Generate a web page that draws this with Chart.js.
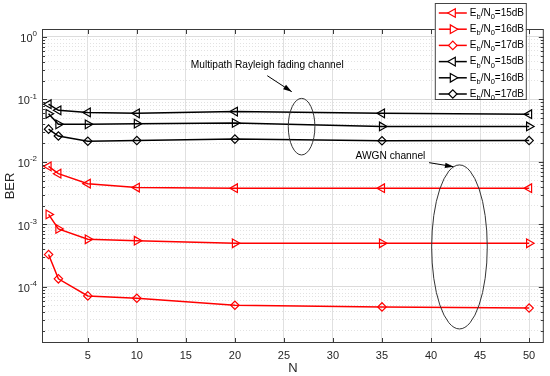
<!DOCTYPE html>
<html>
<head>
<meta charset="utf-8">
<script src="https://cdn.jsdelivr.net/npm/chart.js@4.4.1/dist/chart.umd.min.js"></script>
<style>
html, body { margin: 0; padding: 0; background: #fff; }
#wrap { width: 550px; height: 376px; position: relative; }
</style>
</head>
<body>
<div id="wrap"><canvas id="berChart"></canvas></div>
<script>
// number of paths N
var nValues = [1, 2, 5, 10, 20, 35, 50];

// AWGN channel (red)
var awgn15 = [0.0085, 0.0065, 0.0045, 0.0039, 0.0038, 0.0038, 0.0038];
var awgn16 = [0.00145, 0.00085, 0.00058, 0.00055, 0.00050, 0.00050, 0.00050];
var awgn17 = [0.00033, 0.000135, 0.000072, 0.000066, 0.000051, 0.000048, 0.000046];

// multipath Rayleigh fading channel (black)
var ray15 = [0.084, 0.067, 0.062, 0.060, 0.064, 0.060, 0.058];
var ray16 = [0.059, 0.040, 0.040, 0.041, 0.042, 0.037, 0.037];
var ray17 = [0.0335, 0.026, 0.0215, 0.022, 0.0232, 0.0218, 0.022];

var snrLabels = ['15dB', '16dB', '17dB', '15dB', '16dB', '17dB'];
var xTicks = [5, 10, 15, 20, 25, 30, 35, 40, 45, 50];
var yDecades = [0, -1, -2, -3, -4];

var FONT = '"Liberation Sans", Arial, sans-serif';
var AXIS_COLOR = '#3a3a3a';

function series(data, color, style, rot) {
    return {
        data: data.map(function (v, i) { return { x: nValues[i], y: v }; }),
        borderColor: color,
        backgroundColor: 'transparent',
        borderWidth: 1.5,
        pointStyle: style,
        pointRotation: rot,
        pointRadius: style === 'rectRot' ? 4.2 : 5,
        pointBorderWidth: 1.2,
        pointBorderColor: color,
        pointBackgroundColor: 'transparent',
        tension: 0
    };
}

var datasets = [
    series(awgn15, '#ff0000', 'triangle', -90),
    series(awgn16, '#ff0000', 'triangle', 90),
    series(awgn17, '#ff0000', 'rectRot', 0),
    series(ray15, '#000000', 'triangle', -90),
    series(ray16, '#000000', 'triangle', 90),
    series(ray17, '#000000', 'rectRot', 0)
];

function isMajor(v) {
    var l = Math.log10(v);
    return Math.abs(l - Math.round(l)) < 1e-6;
}

function arrow(ctx, x1, y1, x2, y2) {
    var a = Math.atan2(y2 - y1, x2 - x1);
    ctx.beginPath();
    ctx.moveTo(x1, y1);
    ctx.lineTo(x2, y2);
    ctx.stroke();
    ctx.beginPath();
    ctx.moveTo(x2, y2);
    ctx.lineTo(x2 - 9 * Math.cos(a - 0.3), y2 - 9 * Math.sin(a - 0.3));
    ctx.lineTo(x2 - 9 * Math.cos(a + 0.3), y2 - 9 * Math.sin(a + 0.3));
    ctx.closePath();
    ctx.fill();
}

var decorations = {
    id: 'decorations',
    afterDraw: function (chart) {
        var ctx = chart.ctx, a = chart.chartArea;
        var xs = chart.scales.x, ys = chart.scales.y;
        ctx.save();

        // axes box
        ctx.strokeStyle = AXIS_COLOR;
        ctx.lineWidth = 1;
        ctx.strokeRect(a.left + 0.5, a.top + 0.5, a.right - a.left - 1, a.bottom - a.top - 1);

        // inward ticks
        ctx.beginPath();
        ys.ticks.forEach(function (t) {
            var y = Math.round(ys.getPixelForValue(t.value)) + 0.5;
            var len = isMajor(t.value) ? 5 : 3;
            ctx.moveTo(a.left, y); ctx.lineTo(a.left + len, y);
            ctx.moveTo(a.right, y); ctx.lineTo(a.right - len, y);
        });
        xTicks.forEach(function (v) {
            var x = Math.round(xs.getPixelForValue(v)) + 0.5;
            ctx.moveTo(x, a.bottom); ctx.lineTo(x, a.bottom - 5);
            ctx.moveTo(x, a.top); ctx.lineTo(x, a.top + 5);
        });
        ctx.stroke();

        // y tick labels 10^e
        ctx.fillStyle = '#262626';
        ctx.textBaseline = 'middle';
        ctx.textAlign = 'left';
        yDecades.forEach(function (e) {
            var y = ys.getPixelForValue(Math.pow(10, e));
            var ex = String(e);
            ctx.font = '8px ' + FONT;
            var ew = ctx.measureText(ex).width;
            ctx.font = '11px ' + FONT;
            var bw = ctx.measureText('10').width;
            var xr = a.left - 5;
            ctx.fillText('10', xr - ew - bw, y + 2);
            ctx.font = '8px ' + FONT;
            ctx.fillText(ex, xr - ew, y - 3);
        });

        // annotations
        ctx.strokeStyle = '#000';
        ctx.fillStyle = '#000';
        ctx.lineWidth = 1;
        ctx.font = '10.2px ' + FONT;
        ctx.textBaseline = 'middle';
        ctx.fillText('Multipath Rayleigh fading channel', xs.getPixelForValue(15.5), ys.getPixelForValue(0.347));
        arrow(ctx, xs.getPixelForValue(23.3), ys.getPixelForValue(0.24), xs.getPixelForValue(25.8), ys.getPixelForValue(0.133));
        ctx.fillText('AWGN channel', xs.getPixelForValue(32.3), ys.getPixelForValue(0.01216));
        arrow(ctx, xs.getPixelForValue(39.8), ys.getPixelForValue(0.00975), xs.getPixelForValue(42.3), ys.getPixelForValue(0.0084));

        ctx.strokeStyle = '#333';
        ctx.beginPath();
        ctx.ellipse(xs.getPixelForValue(26.8), ys.getPixelForValue(0.0367), 13.3, 28.3, 0, 0, Math.PI * 2);
        ctx.stroke();
        ctx.beginPath();
        ctx.ellipse(xs.getPixelForValue(42.9), ys.getPixelForValue(0.000437), 27.8, 82, 0, 0, Math.PI * 2);
        ctx.stroke();

        // legend
        var bx = a.right - 109, by = 3, bw2 = 91, bh = 96;
        ctx.fillStyle = '#fff';
        ctx.fillRect(bx, by, bw2, bh);
        ctx.strokeStyle = '#444';
        ctx.lineWidth = 1;
        ctx.strokeRect(bx + 0.5, by + 0.5, bw2, bh);
        chart.data.datasets.forEach(function (ds, i) {
            var y = by + 10 + i * 16.2;
            ctx.strokeStyle = ds.borderColor;
            ctx.lineWidth = 1.5;
            ctx.beginPath();
            ctx.moveTo(bx + 4, y); ctx.lineTo(bx + 32, y);
            ctx.stroke();
            ctx.lineWidth = 1.2;
            ctx.fillStyle = '#fff';
            Chart.helpers.drawPoint(ctx, {
                pointStyle: ds.pointStyle,
                rotation: ds.pointRotation,
                radius: ds.pointRadius,
                borderWidth: 1.2
            }, bx + 18, y);
            var tx = bx + 35;
            ctx.fillStyle = '#000';
            ctx.textBaseline = 'middle';
            var parts = [['E', 0], ['b', 1], ['/N', 0], ['0', 1], ['=' + snrLabels[i], 0]];
            parts.forEach(function (p) {
                ctx.font = (p[1] ? '7.5px ' : '10px ') + FONT;
                ctx.fillText(p[0], tx, p[1] ? y + 4 : y);
                tx += ctx.measureText(p[0]).width;
            });
        });

        ctx.restore();
    }
};

new Chart(document.getElementById('berChart'), {
    type: 'line',
    data: { datasets: datasets },
    options: {
        responsive: true,
        maintainAspectRatio: false,
        animation: false,
        layout: { padding: { top: 29, right: 4, left: 0, bottom: 0 } },
        plugins: { legend: { display: false }, tooltip: { enabled: false } },
        scales: {
            x: {
                type: 'linear',
                min: 0.33,
                max: 51.5,
                afterBuildTicks: function (s) { s.ticks = xTicks.map(function (v) { return { value: v }; }); },
                afterFit: function (s) { s.height = 33; },
                grid: { color: '#e0e0e0', drawTicks: false },
                border: { display: false },
                ticks: { color: '#262626', padding: 6, maxRotation: 0, autoSkip: false, font: { family: FONT, size: 11 } },
                title: { display: true, text: 'N', color: '#262626', padding: { top: 0, bottom: 0 }, font: { family: FONT, size: 13 } }
            },
            y: {
                type: 'logarithmic',
                min: 1.27e-5,
                max: 1.34,
                afterBuildTicks: function (s) {
                    var t = [];
                    for (var e = -5; e <= 0; e++) {
                        for (var m = 1; m <= 9; m++) {
                            var v = m * Math.pow(10, e);
                            if (v >= s.min && v <= s.max) t.push({ value: v });
                        }
                    }
                    s.ticks = t;
                },
                afterFit: function (s) { s.width = 42; },
                grid: {
                    drawTicks: false,
                    color: function (c) { return c.tick && isMajor(c.tick.value) ? '#dcdcdc' : '#e2e2e2'; }
                },
                border: {
                    display: false,
                    dash: function (c) { return c.tick && !isMajor(c.tick.value) ? [1, 2] : []; }
                },
                ticks: { display: false, autoSkip: false },
                title: { display: true, text: 'BER', color: '#262626', padding: { top: 3, bottom: 0 }, font: { family: FONT, size: 13 } }
            }
        }
    },
    plugins: [decorations]
});
</script>
</body>
</html>
